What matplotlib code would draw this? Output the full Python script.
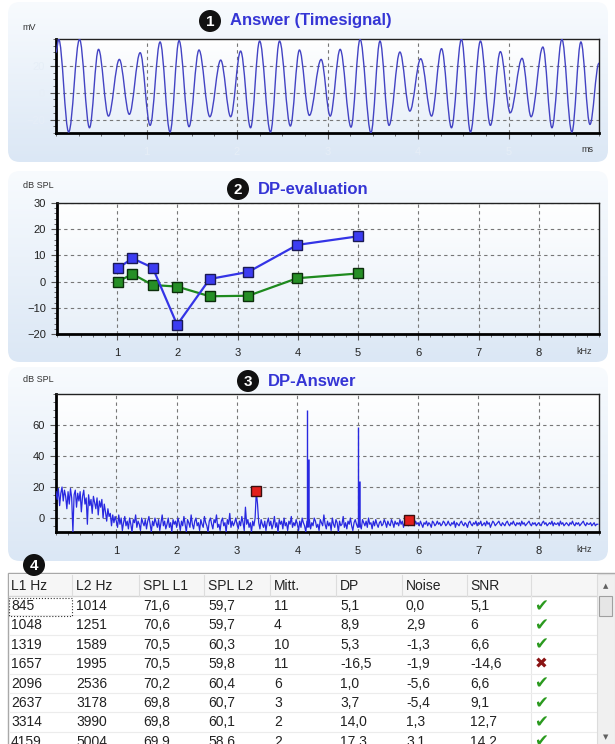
import numpy as np
import matplotlib.pyplot as plt
from matplotlib.path import Path
from matplotlib.patches import PathPatch, FancyBboxPatch, Rectangle, Circle
from matplotlib.colors import LinearSegmentedColormap
from matplotlib.ticker import MultipleLocator

plt.rcParams['font.family'] = ['Liberation Sans', 'DejaVu Sans']

# measurement table (one row per frequency pair)
headers = ['L1 Hz', 'L2 Hz', 'SPL L1', 'SPL L2', 'Mitt.', 'DP', 'Noise', 'SNR', '']
l1_hz = [845, 1048, 1319, 1657, 2096, 2637, 3314, 4159]
l2_hz = [1014, 1251, 1589, 1995, 2536, 3178, 3990, 5004]
spl_l1 = [71.6, 70.6, 70.5, 70.5, 70.2, 69.8, 69.8, 69.9]
spl_l2 = [59.7, 59.7, 60.3, 59.8, 60.4, 60.7, 60.1, 58.6]
mitt = [11, 4, 10, 11, 6, 3, 2, 2]
dp = [5.1, 8.9, 5.3, -16.5, 1.0, 3.7, 14.0, 17.3]
noise = [0.0, 2.9, -1.3, -1.9, -5.6, -5.4, 1.3, 3.1]
snr = [5.1, 6, 6.6, -14.6, 6.6, 9.1, 12.7, 14.2]
passed = [True, True, True, False, True, True, True, True]

# time signal: turning points of the recorded answer (ms, mV)
t_ms = [0.00, 0.03, 0.14, 0.26, 0.37, 0.47, 0.58, 0.70, 0.81, 0.93,
        1.04, 1.15, 1.26, 1.36, 1.47, 1.58, 1.70, 1.82, 1.93, 2.04,
        2.15, 2.25, 2.37, 2.47, 2.59, 2.69, 2.80, 2.93, 3.03, 3.14,
        3.26, 3.36, 3.48, 3.58, 3.68, 3.80, 3.91, 4.03, 4.15, 4.26,
        4.37, 4.48, 4.58, 4.69, 4.80, 4.91, 5.02, 5.15, 5.25, 5.38,
        5.48, 5.59, 5.70, 5.80, 5.90, 6.00]
u_mv = [30.0, 39.7, -29.3, 39.7, -26.1, 32.3, -17.4, 24.8, -16.1, 29.8,
        -24.3, 37.8, -29.3, 38.8, -25.3, 31.8, -17.9, 24.3, -17.9, 31.0,
        -26.1, 38.5, -29.3, 38.5, -24.8, 31.8, -16.9, 24.8, -17.4, 32.3,
        -25.6, 39.7, -29.8, 38.5, -24.3, 30.3, -13.7, 25.3, -17.4, 32.8,
        -26.1, 39.7, -29.3, 38.5, -24.3, 30.6, -14.9, 25.6, -17.9, 34.0,
        -26.1, 39.7, -29.3, 37.8, -23.6, 22.0]

# spectrum: level per bin (bin width in kHz), 0.5 kHz per line
bin_khz = 0.02
spec_db = [
    17, 12, 19, 8, 16, 20, 11, 18, 14, 6, 17, 9, 19, 13, -9, 15, 18, 7, 16, 11, 17, 4, 14, 18, 9,
    13, -4, 15, 8, 12, 3, 14, 10, 6, 13, 2, 11, 7, 12, 0, 9, 4, -2, 6, 1, 3, -5, 2, -3, 1,
    -2, -6, 2, -4, 0, -8, -3, 1, -5, -2, -7, 0, -4, -9, -1, -3, 2, -6, -2, -4, -8, 0, -3, -5, -1,
    -7, -2, 1, -4, -9, -2, -5, 0, -3, -6, -1, -8, -3, 2, -5, -2, -7, -4, 0, -6, -3, -9, -1, -4, -2,
    -6, 0, -3, -8, -2, -5, 1, -4, -9, -1, -3, -6, 2, -4, -7, -2, 0, -5, -3, -8, -1, -4, -6, 1, -3,
    -5, -9, -2, 0, -4, -7, -1, -3, 2, -6, -4, -8, -2, 0, -5, -3, -9, -1, -4, 3, -6, -2, -5, -3, 0,
    -4, -7, -2, -5, 1, -3, -8, 7, -4, -1, -6, -3, -9, -2, -5, 0, 17, 9, -3, -7, -1, -4, -6, -2, -8,
    -3, 0, -5, -2, -7, -4, 1, -6, -3, -9, -1, -4, -2, -7, 0, -5, -3, -8, -2, -4, 1, -6, -3, -5, -1,
    -4, -8, -2, -6, 0, -3, -5, -9, -2, -4, -1, -7, -3, -5, 0, -2, -6, -4, -8, -1, -3, -5, 2, -4, -7,
    -2, -5, -3, -8, 0, -4, -6, -1, -3, -9, -2, -5, -4, 1, -6, -3, -7, -2, -4, 0, -5, -8, -3, -1, -4,
    -6, -2, -4, -7, -1, -3, -5, -2, -6, 0, -4, -3, -7, -2, -5, -1, -4, -6, -3, -2, -5, -4, -1, -3, -6,
    -2, -4, -5, -1, -3, -6, -2, -4, -3, -5, -1, -4, -2, -6, -3, -4, -2, -5, -3, -1, -4, -3, -5, -2, -4,
    -3, -5, -2, -4, -6, -3, -4, -2, -5, -3, -4, -6, -2, -3, -5, -4, -2, -4, -3, -5, -4, -2, -3, -5, -4,
    -2, -4, -5, -3, -4, -2, -6, -3, -4, -5, -3, -2, -4, -5, -3, -4, -6, -3, -2, -4, -5, -3, -4, -2, -5,
    -3, -4, -2, -5, -4, -3, -5, -2, -4, -3, -6, -4, -2, -3, -5, -4, -3, -2, -4, -5, -3, -4, -5, -3, -2,
    -4, -5, -3, -4, -2, -4, -5, -3, -4, -3, -5, -2, -4, -3, -5, -4, -3, -2, -4, -5, -3, -4, -3, -5, -4,
    -3, -4, -5, -3, -2, -4, -3, -5, -4, -3, -4, -2, -5, -3, -4, -4, -3, -5, -2, -4, -3, -5, -4, -3, -4,
    -5, -3, -4, -2, -4, -5, -3, -4, -3, -5, -4, -3, -2, -4, -5, -3, -4, -4, -3, -5, -4, -3, -5, -4, -4]
tone_khz = [4.159, 5.004]
tone_db = [70, 59]
tone_side_db = [38, 24]
marker_khz = [3.314, 5.849]
marker_db = [17.3, -1.5]

W, H = 615, 744
fig = plt.figure(figsize=(W / 100, H / 100), dpi=100)


def box(x0, y0, x1, y1):
    # pixel box (top-left origin) -> figure fraction
    return [x0 / W, 1 - y1 / H, (x1 - x0) / W, (y1 - y0) / H]


grad = np.linspace(0, 1, 256).reshape(-1, 1)
panel_cmap = LinearSegmentedColormap.from_list('panel', ['#f8fbfe', '#dbe7f5'])
axes_cmap = LinearSegmentedColormap.from_list('plot', ['#ffffff', '#e8f0f9'])

# background layer in pixel units
bg = fig.add_axes([0, 0, 1, 1])
bg.axis('off')
for y0, y1 in [(2, 162), (171, 362), (367, 561)]:
    patch = FancyBboxPatch((8, y0), 600, y1 - y0,
                           boxstyle='round,pad=0,rounding_size=12',
                           fc='none', ec='none')
    bg.add_patch(patch)
    im = bg.imshow(grad, cmap=panel_cmap, extent=(8, 608, y1, y0),
                   aspect='auto', zorder=0)
    im.set_clip_path(patch)


def badge(x, y, num):
    bg.add_patch(Circle((x, y), 11, fc='#111111', ec='none', zorder=3))
    bg.text(x, y + 0.5, num, color='white', fontsize=11, fontweight='bold',
            ha='center', va='center', zorder=4)


for x, y, title, num in [(230, 21, 'Answer (Timesignal)', '1'),
                         (258, 189, 'DP-evaluation', '2'),
                         (268, 381, 'DP-Answer', '3')]:
    badge(x - 20, y, num)
    bg.text(x, y, title, color='#3535d5', fontsize=12, fontweight='bold',
            ha='left', va='center')
badge(34, 565, '4')

small = dict(fontsize=6.5, color='#333333', ha='center', va='center')
bg.text(29, 28, 'mV', **small)
bg.text(587, 150, 'ms', **small)
bg.text(38, 185, 'dB SPL', **small)
bg.text(584, 352, 'kHz', **small)
bg.text(38, 380, 'dB SPL', **small)
bg.text(584, 549, 'kHz', **small)


def style_axes(ax, label_color='#222222'):
    ax.imshow(grad, cmap=axes_cmap, extent=(0, 1, 0, 1),
              transform=ax.transAxes, aspect='auto', zorder=0)
    ax.set_facecolor('none')
    ax.grid(True, color='#777777', ls=(0, (3, 3)), lw=0.8)
    for side in ['left', 'bottom']:
        ax.spines[side].set_linewidth(2)
        ax.spines[side].set_color('black')
    for side in ['top', 'right']:
        ax.spines[side].set_linewidth(1)
        ax.spines[side].set_color('#222222')
    ax.tick_params(which='major', length=4, width=0.8, color='#555555',
                   labelsize=8, labelcolor=label_color)
    ax.tick_params(which='minor', length=2.5, width=0.6, color='#555555')
    ax.tick_params(axis='x', pad=6)
    ax.tick_params(axis='y', pad=4)


# 1: time signal
ax1 = fig.add_axes(box(56, 39, 599, 133))
style_axes(ax1, label_color='#e6eef7')
verts = [(t_ms[0], u_mv[0])]
codes = [Path.MOVETO]
for i in range(1, len(t_ms)):
    d = (t_ms[i] - t_ms[i - 1]) * 0.36
    verts += [(t_ms[i - 1] + d, u_mv[i - 1]), (t_ms[i] - d, u_mv[i]),
              (t_ms[i], u_mv[i])]
    codes += [Path.CURVE4] * 3
ax1.add_patch(PathPatch(Path(verts, codes), fc='none', ec='#4343c3',
                        lw=1.0, zorder=3))
ax1.set_xlim(0, 6)
ax1.set_ylim(-30, 40)
ax1.set_xticks([1, 2, 3, 4, 5])
ax1.set_yticks([-20, 0, 20])
ax1.xaxis.set_minor_locator(MultipleLocator(0.25))
ax1.yaxis.set_minor_locator(MultipleLocator(5))

# 2: DP and noise level per L2 frequency
l2_khz = np.array(l2_hz) / 1000
ax2 = fig.add_axes(box(57, 203, 599, 334))
style_axes(ax2)
ax2.plot(l2_khz, noise, color='#1e8a1e', lw=1.6, marker='s', ms=7.5,
         mfc='#268f26', mec='#0b2e0b', mew=1, zorder=3)
ax2.plot(l2_khz, dp, color='#3434e6', lw=1.6, marker='s', ms=7.5,
         mfc='#3c3cf2', mec='#1a1a55', mew=1, zorder=4)
ax2.set_xlim(0, 9)
ax2.set_ylim(-20, 30)
ax2.set_xticks(range(1, 9))
ax2.set_yticks(range(-20, 31, 10))
ax2.xaxis.set_minor_locator(MultipleLocator(0.2))
ax2.yaxis.set_minor_locator(MultipleLocator(2))

# 3: spectrum of the answer
spec_khz = np.arange(len(spec_db)) * bin_khz
ax3 = fig.add_axes(box(56, 394, 599, 532))
style_axes(ax3)
ax3.plot(spec_khz, spec_db, color='#2828e0', lw=0.9, zorder=3)
ax3.vlines(tone_khz, -6, tone_db, color='#2828e0', lw=1.0, zorder=3)
ax3.vlines(np.array(tone_khz) + 0.012, -6, tone_side_db, color='#2828e0',
           lw=1.8, zorder=3)
ax3.plot(marker_khz, marker_db, 's', ms=7, mfc='#e3201d', mec='#3a0f0f',
         mew=1, zorder=5)
ax3.set_xlim(0, 9)
ax3.set_ylim(-9, 80)
ax3.set_xticks(range(1, 9))
ax3.set_yticks([0, 20, 40, 60])
ax3.xaxis.set_minor_locator(MultipleLocator(0.2))
ax3.yaxis.set_minor_locator(MultipleLocator(5))

# 4: table
bg.add_patch(Rectangle((8, 573), 610, 180, fc='white', ec='#a8a8a8', lw=1,
                       zorder=1))
bg.add_patch(Rectangle((9, 574), 588, 22, fc='#f6f6f6', ec='none', zorder=1))
bg.plot([9, 597], [596, 596], color='#d4d4d4', lw=1, zorder=2)
col_x = [11, 76, 143, 208, 274, 340, 406, 470]
for x in [72, 139, 204, 270, 336, 402, 467, 531]:
    bg.plot([x, x], [575, 596], color='#dddddd', lw=0.8, zorder=2)
bg.plot([531, 531], [596, 744], color='#e8e8e8', lw=0.8, zorder=2)
row_h = 19.4
for k in range(1, 8):
    y = 596 + k * row_h
    bg.plot([9, 597], [y, y], color='#ececec', lw=0.8, zorder=2)

txt = dict(fontsize=10, color='#222222', ha='left', va='center', zorder=3)
for x, h in zip(col_x, headers):
    bg.text(x, 586, h, **txt)


def f1(v):
    return f'{v:.1f}'.replace('.', ',')


for i in range(len(l1_hz)):
    y = 606 + i * row_h
    cells = [str(l1_hz[i]), str(l2_hz[i]), f1(spl_l1[i]), f1(spl_l2[i]),
             str(mitt[i]), f1(dp[i]), f1(noise[i]), f'{snr[i]:g}'.replace('.', ',')]
    for x, c in zip(col_x, cells):
        bg.text(x, y, c, **txt)
    if passed[i]:
        bg.text(541, y, '\u2714', fontsize=12, color='#2b9a1f',
                family='DejaVu Sans', ha='center', va='center', zorder=3)
    else:
        bg.text(541, y, '\u2716', fontsize=11, color='#8b1414',
                family='DejaVu Sans', ha='center', va='center', zorder=3)

# focus frame on the first cell
bg.add_patch(Rectangle((9, 597.5), 63, 18.5, fill=False, ls=':', lw=0.8,
                       ec='#333333', zorder=3))

# scrollbar
bg.add_patch(Rectangle((597, 574), 18, 171, fc='#f0f0f0', ec='#dcdcdc',
                       lw=0.8, zorder=2))
bg.add_patch(Rectangle((599, 596), 13, 20, fc='#e6e6e6', ec='#a0a0a0',
                       lw=0.8, zorder=3))
bg.text(606, 586, '\u25b2', fontsize=5, color='#606060', ha='center',
        va='center', family='DejaVu Sans', zorder=3)
bg.text(606, 737, '\u25bc', fontsize=5, color='#606060', ha='center',
        va='center', family='DejaVu Sans', zorder=3)

bg.set_xlim(0, W)
bg.set_ylim(H, 0)

fig.savefig('out.png', dpi=100)
